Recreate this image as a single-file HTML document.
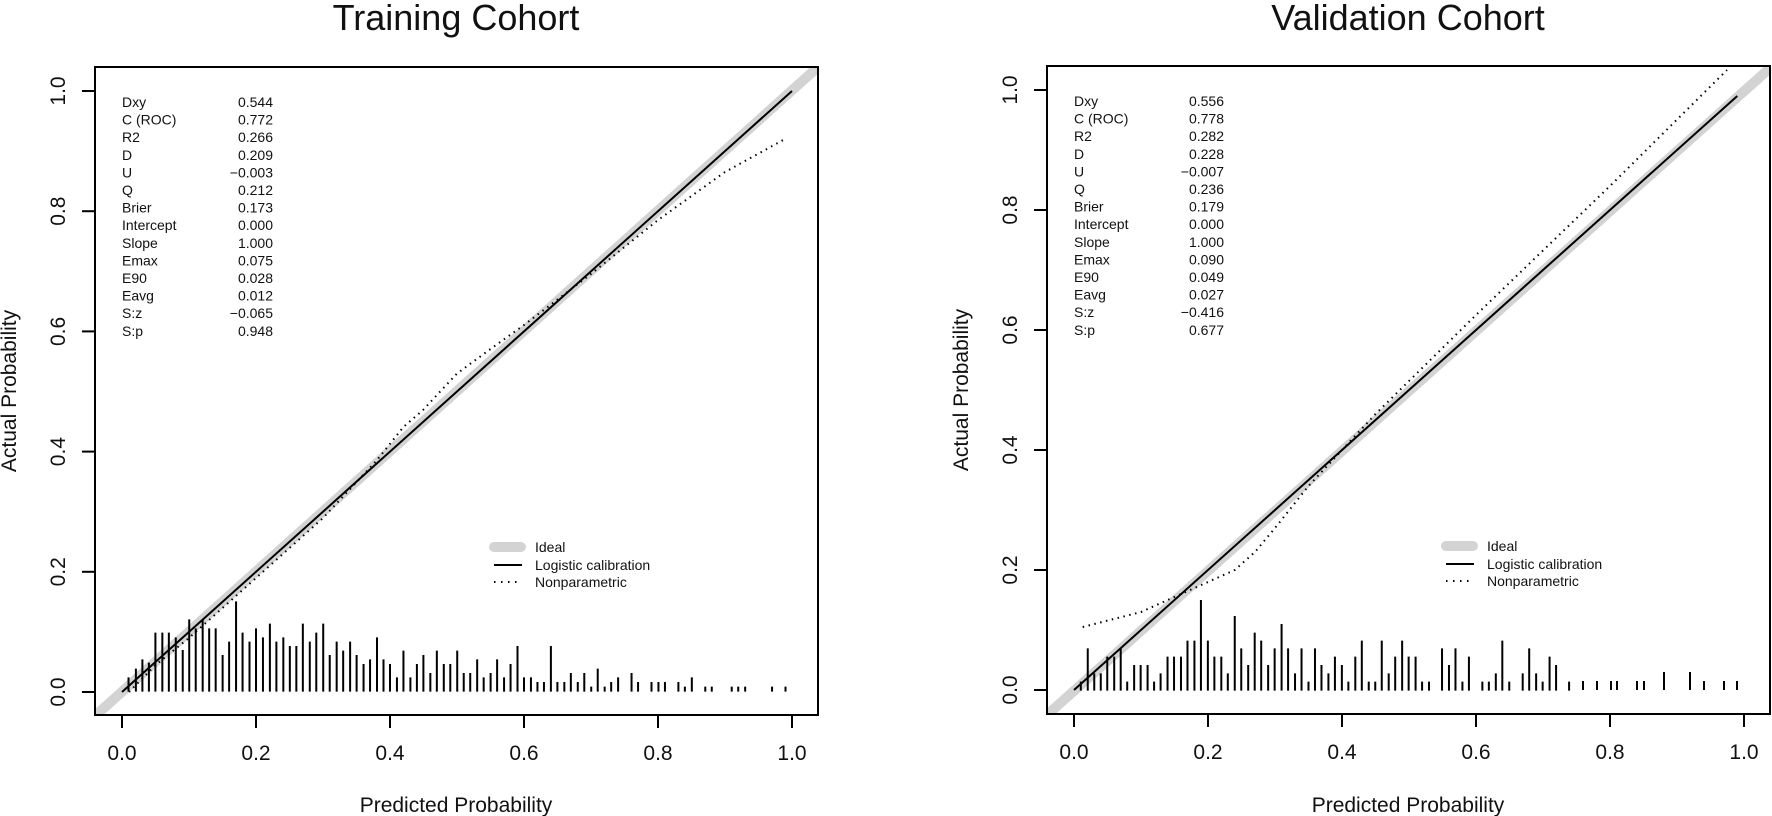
<!DOCTYPE html>
<html><head><meta charset="utf-8"><style>
html,body{margin:0;padding:0;background:#fff;}
svg{display:block;font-family:"Liberation Sans",Arial,sans-serif;}
</style></head><body>
<svg width="1772" height="816" viewBox="0 0 1772 816" xmlns="http://www.w3.org/2000/svg">
<defs>
<clipPath id="cl"><rect x="95" y="67" width="723" height="648"/></clipPath>
<clipPath id="cr"><rect x="1047" y="66" width="723" height="648"/></clipPath>
</defs>
<rect width="1772" height="816" fill="#fff"/>

<!-- ============ LEFT ============ -->
<text x="456" y="30" font-size="36" text-anchor="middle" fill="#111">Training Cohort</text>
<g clip-path="url(#cl)">
<line x1="95" y1="716" x2="818" y2="67" stroke="#d3d3d3" stroke-width="10"/>
</g>
<line x1="122" y1="692" x2="792" y2="91" stroke="#000" stroke-width="2"/>
<polyline fill="none" stroke="#000" stroke-width="2" stroke-dasharray="1.5 4.5" points="129,692 155.5,665 189,638 256,578 323,518 376.6,460.6 403.4,427 423,410 457,373.5 490.5,349 524,325 591,274 658,220 725,172 785,139"/>
<g transform="translate(60,520) scale(0.43365,0.33333)" stroke="#000" stroke-width="2" fill="none">
<path vector-effect="non-scaling-stroke" d="M158 515V472M175 515V446M190 515V418M205 515V428M220 515V338M236 515V338M251 515V338M267 515V352M283 515V390M298 515V298M313 515V325M329 515V298M344 515V325M359 515V325M375 515V405M390 515V365M406 515V244M421 515V338M437 515V365M452 515V325M468 515V352M484 515V311M499 515V365M515 515V352M530 515V378M545 515V378M560 515V311M576 515V365M591 515V338M607 515V311M622 515V405M638 515V365M653 515V392M669 515V365M684 515V405M700 515V432M715 515V418M731 515V352M746 515V418M761 515V432M777 515V472M792 515V392M808 515V472M823 515V432M838 515V405M854 515V459M869 515V392M885 515V432M900 515V432M916 515V392M931 515V459M946 515V459M962 515V418M977 515V472M993 515V459M1008 515V418M1024 515V472M1039 515V432M1055 515V378M1070 515V472M1086 515V472M1101 515V486M1116 515V486M1132 515V378M1147 515V486M1163 515V486M1178 515V459M1194 515V486M1209 515V459M1225 515V500M1240 515V446M1256 515V500M1271 515V486M1287 515V472M1318 515V459M1333 515V486M1364 515V486M1380 515V486M1395 515V486M1426 515V486M1441 515V500M1457 515V472M1488 515V500M1503 515V500M1549 515V500M1564 515V500M1580 515V500M1642 515V500M1673 515V500"/>
</g>
<rect x="95" y="67" width="723" height="648" fill="none" stroke="#000" stroke-width="2"/>
<g stroke="#000" stroke-width="2">
<line x1="82" y1="692" x2="95" y2="692"/><line x1="82" y1="571.8" x2="95" y2="571.8"/><line x1="82" y1="451.6" x2="95" y2="451.6"/><line x1="82" y1="331.4" x2="95" y2="331.4"/><line x1="82" y1="211.2" x2="95" y2="211.2"/><line x1="82" y1="91" x2="95" y2="91"/>
<line x1="122" y1="715" x2="122" y2="728"/><line x1="256" y1="715" x2="256" y2="728"/><line x1="390" y1="715" x2="390" y2="728"/><line x1="524" y1="715" x2="524" y2="728"/><line x1="658" y1="715" x2="658" y2="728"/><line x1="792" y1="715" x2="792" y2="728"/>
</g>
<g font-size="21" fill="#111" text-anchor="middle">
<text transform="translate(65,692) rotate(-90)">0.0</text>
<text transform="translate(65,571.8) rotate(-90)">0.2</text>
<text transform="translate(65,451.6) rotate(-90)">0.4</text>
<text transform="translate(65,331.4) rotate(-90)">0.6</text>
<text transform="translate(65,211.2) rotate(-90)">0.8</text>
<text transform="translate(65,91) rotate(-90)">1.0</text>
<text x="122" y="760">0.0</text><text x="256" y="760">0.2</text><text x="390" y="760">0.4</text><text x="524" y="760">0.6</text><text x="658" y="760">0.8</text><text x="792" y="760">1.0</text>
<text x="456" y="812">Predicted Probability</text>
<text transform="translate(16,391) rotate(-90)">Actual Probability</text>
</g>
<g font-size="14" fill="#111">
<text x="122" y="107">Dxy</text><text x="122" y="124.6">C (ROC)</text><text x="122" y="142.2">R2</text><text x="122" y="159.8">D</text><text x="122" y="177.4">U</text><text x="122" y="195">Q</text><text x="122" y="212.6">Brier</text><text x="122" y="230.2">Intercept</text><text x="122" y="247.8">Slope</text><text x="122" y="265.4">Emax</text><text x="122" y="283">E90</text><text x="122" y="300.6">Eavg</text><text x="122" y="318.2">S:z</text><text x="122" y="335.8">S:p</text>
</g>
<g font-size="14" fill="#111" text-anchor="end">
<text x="273" y="107">0.544</text><text x="273" y="124.6">0.772</text><text x="273" y="142.2">0.266</text><text x="273" y="159.8">0.209</text><text x="273" y="177.4">−0.003</text><text x="273" y="195">0.212</text><text x="273" y="212.6">0.173</text><text x="273" y="230.2">0.000</text><text x="273" y="247.8">1.000</text><text x="273" y="265.4">0.075</text><text x="273" y="283">0.028</text><text x="273" y="300.6">0.012</text><text x="273" y="318.2">−0.065</text><text x="273" y="335.8">0.948</text>
</g>
<line x1="494" y1="547" x2="521" y2="547" stroke="#d3d3d3" stroke-width="10" stroke-linecap="round"/>
<line x1="494" y1="565" x2="522" y2="565" stroke="#000" stroke-width="2"/>
<line x1="494" y1="582" x2="522" y2="582" stroke="#000" stroke-width="2" stroke-dasharray="1.5 5.5"/>
<g font-size="14" fill="#111"><text x="535" y="552">Ideal</text><text x="535" y="570">Logistic calibration</text><text x="535" y="587">Nonparametric</text></g>

<!-- ============ RIGHT ============ -->
<text x="1408" y="30" font-size="36" text-anchor="middle" fill="#111">Validation Cohort</text>
<g clip-path="url(#cr)">
<line x1="1047" y1="715" x2="1770" y2="68" stroke="#d3d3d3" stroke-width="10"/>
</g>
<line x1="1074" y1="690" x2="1737.3" y2="96" stroke="#000" stroke-width="2"/>
<polyline fill="none" stroke="#000" stroke-width="2" stroke-dasharray="1.5 4.5" points="1082.7,627 1141,612 1181,594 1208,582 1234.8,570 1255,552 1275,528 1308.5,486 1342,450 1375.5,414 1476,315 1610,186 1727,70"/>
<g transform="translate(890,520) scale(0.43365,0.33333)" stroke="#000" stroke-width="2" fill="none">
<path vector-effect="non-scaling-stroke" d="M440 512V485M456 512V385M471 512V460M486 512V460M501 512V410M517 512V410M532 512V385M547 512V485M563 512V435M578 512V435M594 512V435M609 512V485M624 512V460M640 512V410M655 512V410M671 512V410M686 512V362M702 512V362M717 512V240M733 512V362M748 512V410M764 512V410M779 512V460M795 512V288M810 512V385M826 512V435M841 512V338M856 512V362M872 512V435M887 512V385M903 512V312M918 512V385M934 512V460M949 512V385M965 512V485M980 512V385M995 512V435M1011 512V460M1026 512V410M1042 512V435M1057 512V485M1073 512V410M1088 512V362M1104 512V485M1119 512V485M1134 512V362M1150 512V460M1165 512V410M1181 512V362M1196 512V410M1212 512V410M1227 512V485M1243 512V485M1273 512V385M1289 512V435M1304 512V385M1320 512V485M1335 512V410M1366 512V485M1381 512V485M1397 512V460M1412 512V362M1428 512V485M1459 512V460M1474 512V385M1490 512V460M1505 512V485M1521 512V410M1536 512V435M1566 512V485"/>
</g>
<g stroke="#000" stroke-width="2">
<path d="M1583 690V681M1597 690V681M1611 690V681M1617 690V681M1637 690V681M1644 690V681M1664 690V672M1690 690V672M1704 690V681M1724 690V681M1737 690V681"/>
</g>
<rect x="1047" y="66" width="723" height="648" fill="none" stroke="#000" stroke-width="2"/>
<g stroke="#000" stroke-width="2">
<line x1="1034" y1="690" x2="1047" y2="690"/><line x1="1034" y1="570" x2="1047" y2="570"/><line x1="1034" y1="450" x2="1047" y2="450"/><line x1="1034" y1="330" x2="1047" y2="330"/><line x1="1034" y1="210" x2="1047" y2="210"/><line x1="1034" y1="90" x2="1047" y2="90"/>
<line x1="1074" y1="714" x2="1074" y2="727"/><line x1="1208" y1="714" x2="1208" y2="727"/><line x1="1342" y1="714" x2="1342" y2="727"/><line x1="1476" y1="714" x2="1476" y2="727"/><line x1="1610" y1="714" x2="1610" y2="727"/><line x1="1744" y1="714" x2="1744" y2="727"/>
</g>
<g font-size="21" fill="#111" text-anchor="middle">
<text transform="translate(1017,690) rotate(-90)">0.0</text>
<text transform="translate(1017,570) rotate(-90)">0.2</text>
<text transform="translate(1017,450) rotate(-90)">0.4</text>
<text transform="translate(1017,330) rotate(-90)">0.6</text>
<text transform="translate(1017,210) rotate(-90)">0.8</text>
<text transform="translate(1017,90) rotate(-90)">1.0</text>
<text x="1074" y="759">0.0</text><text x="1208" y="759">0.2</text><text x="1342" y="759">0.4</text><text x="1476" y="759">0.6</text><text x="1610" y="759">0.8</text><text x="1744" y="759">1.0</text>
<text x="1408" y="812">Predicted Probability</text>
<text transform="translate(968,390) rotate(-90)">Actual Probability</text>
</g>
<g font-size="14" fill="#111">
<text x="1074" y="106">Dxy</text><text x="1074" y="123.6">C (ROC)</text><text x="1074" y="141.2">R2</text><text x="1074" y="158.8">D</text><text x="1074" y="176.4">U</text><text x="1074" y="194">Q</text><text x="1074" y="211.6">Brier</text><text x="1074" y="229.2">Intercept</text><text x="1074" y="246.8">Slope</text><text x="1074" y="264.4">Emax</text><text x="1074" y="282">E90</text><text x="1074" y="299.6">Eavg</text><text x="1074" y="317.2">S:z</text><text x="1074" y="334.8">S:p</text>
</g>
<g font-size="14" fill="#111" text-anchor="end">
<text x="1224" y="106">0.556</text><text x="1224" y="123.6">0.778</text><text x="1224" y="141.2">0.282</text><text x="1224" y="158.8">0.228</text><text x="1224" y="176.4">−0.007</text><text x="1224" y="194">0.236</text><text x="1224" y="211.6">0.179</text><text x="1224" y="229.2">0.000</text><text x="1224" y="246.8">1.000</text><text x="1224" y="264.4">0.090</text><text x="1224" y="282">0.049</text><text x="1224" y="299.6">0.027</text><text x="1224" y="317.2">−0.416</text><text x="1224" y="334.8">0.677</text>
</g>
<line x1="1446" y1="546" x2="1473" y2="546" stroke="#d3d3d3" stroke-width="10" stroke-linecap="round"/>
<line x1="1446" y1="564" x2="1474" y2="564" stroke="#000" stroke-width="2"/>
<line x1="1446" y1="581" x2="1474" y2="581" stroke="#000" stroke-width="2" stroke-dasharray="1.5 5.5"/>
<g font-size="14" fill="#111"><text x="1487" y="551">Ideal</text><text x="1487" y="569">Logistic calibration</text><text x="1487" y="586">Nonparametric</text></g>
</svg>
</body></html>
